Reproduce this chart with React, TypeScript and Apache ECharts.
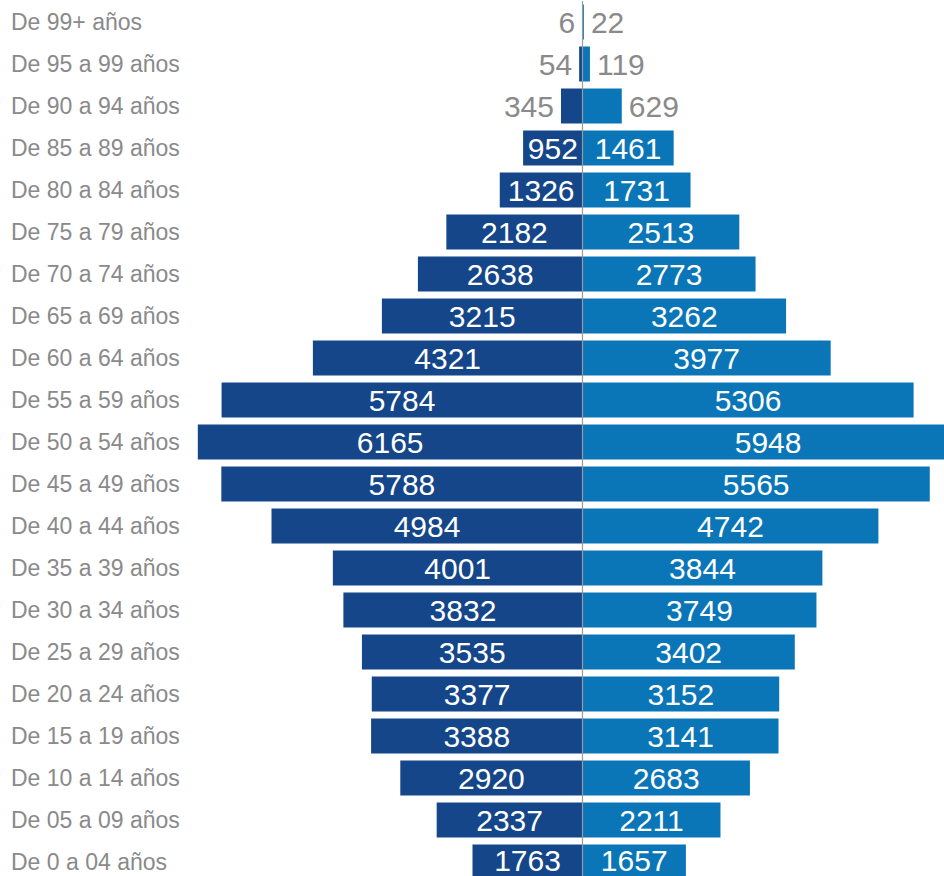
import React, { useEffect, useRef } from "react";
import * as echarts from "echarts";

const categories = [
  "De 99+ años", "De 95 a 99 años", "De 90 a 94 años", "De 85 a 89 años",
  "De 80 a 84 años", "De 75 a 79 años", "De 70 a 74 años", "De 65 a 69 años",
  "De 60 a 64 años", "De 55 a 59 años", "De 50 a 54 años", "De 45 a 49 años",
  "De 40 a 44 años", "De 35 a 39 años", "De 30 a 34 años", "De 25 a 29 años",
  "De 20 a 24 años", "De 15 a 19 años", "De 10 a 14 años", "De 05 a 09 años",
  "De 0 a 04 años",
];
const leftValues = [6, 54, 345, 952, 1326, 2182, 2638, 3215, 4321, 5784, 6165, 5788, 4984, 4001, 3832, 3535, 3377, 3388, 2920, 2337, 1763];
const rightValues = [22, 119, 629, 1461, 1731, 2513, 2773, 3262, 3977, 5306, 5948, 5565, 4742, 3844, 3749, 3402, 3152, 3141, 2683, 2211, 1657];

const OUTSIDE_LIMIT = 700;
const FONT = "'Liberation Sans', Arial, sans-serif";

export default function App() {
  const ref = useRef<HTMLDivElement>(null);
  useEffect(() => {
    document.body.style.margin = "0";
    const chart = echarts.init(ref.current!, undefined, { renderer: "svg" });
    const last = categories.length - 1;
    const valueLabel = (v: number, side: "left" | "right", i: number) => {
      const base: any =
        v < OUTSIDE_LIMIT
          ? { show: true, position: side, distance: 7, color: "#8a8a8a" }
          : { show: true, position: "inside", color: "#ffffff" };
      if (i === last) base.offset = [0, -2];
      return base;
    };
    chart.setOption({
      animation: false,
      grid: { left: 0, top: 1, width: 944, height: 882, containLabel: false },
      xAxis: {
        type: "value",
        min: -9335,
        max: 5793,
        axisLine: { show: false },
        axisTick: { show: false },
        axisLabel: { show: false },
        splitLine: { show: false },
      },
      yAxis: {
        type: "category",
        data: categories,
        inverse: true,
        position: "left",
        axisLine: { show: false, onZero: false },
        axisTick: { show: false },
        splitLine: { show: false },
        axisLabel: {
          inside: true,
          margin: 11,
          align: "left",
          fontSize: 23,
          lineHeight: 22,
          color: "#8a8a8a",
          fontFamily: FONT,
          padding: [3, 0, 0, 0],
        },
      },
      series: [
        {
          type: "bar",
          name: "left",
          clip: false,
          barWidth: 35,
          barGap: "-100%",
          itemStyle: { color: "#15468a" },
          label: { fontSize: 30, lineHeight: 24, fontFamily: FONT, formatter: (p: any) => String(Math.abs(p.value)) },
          data: leftValues.map((v, i) => ({ value: -v, label: valueLabel(v, "left", i) })),
        },
        {
          type: "bar",
          name: "right",
          clip: false,
          barWidth: 35,
          barGap: "-100%",
          itemStyle: { color: "#0a76b8" },
          label: { fontSize: 30, lineHeight: 24, fontFamily: FONT },
          data: rightValues.map((v, i) => ({ value: v, label: valueLabel(v, "right", i) })),
          markLine: {
            silent: true,
            symbol: "none",
            label: { show: false },
            lineStyle: { color: "#9a9a9a", width: 1.2, type: "solid" },
            data: [{ xAxis: 0 }],
          },
        },
      ],
    });
    return () => chart.dispose();
  }, []);
  return (
    <div style={{ width: 944, height: 876, overflow: "hidden" }}>
      <div ref={ref} style={{ width: 944, height: 884 }} />
    </div>
  );
}
